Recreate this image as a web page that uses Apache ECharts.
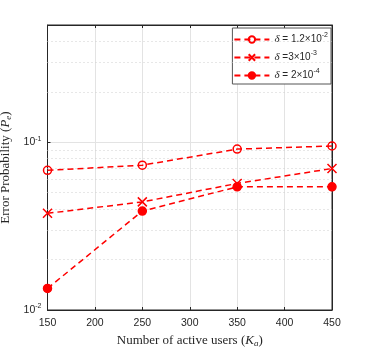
<!DOCTYPE html>
<html>
<head>
<meta charset="utf-8">
<script src="https://cdn.jsdelivr.net/npm/echarts@6/dist/echarts.min.js"></script>
<style>
  html, body { margin: 0; padding: 0; background: #fff; }
  #main { width: 368px; height: 349px; }
</style>
</head>
<body>
<div id="main"></div>
<script>
// data
var users = [150, 250, 350, 450];
var peA = [0.068, 0.073, 0.091, 0.095];     // delta = 1.2e-2
var peB = [0.0377, 0.0441, 0.0568, 0.0697]; // delta = 3e-3
var peC = [0.01345, 0.0389, 0.0542, 0.0542]; // delta = 2e-4
var seriesNames = ['d12e-2', 'd3e-3', 'd2e-4'];
var legendLabels = {
  'd12e-2': '{d|δ} = 1.2×10{s|-2}',
  'd3e-3': '{d|δ} =3×10{s|-3}',
  'd2e-4': '{d|δ} = 2×10{s|-4}'
};
var minorGrid = [0.02, 0.03, 0.04, 0.05, 0.06, 0.07, 0.08, 0.09, 0.2, 0.3, 0.4];
var xTicks = { min: 150, max: 450, step: 50 };
var yRange = { min: 0.01, max: 0.5 };

var RED = '#ff0000';
var DARK = '#262626';
var xPath = 'path://M0,0L10,10M10,0L0,10';

function pairs(ys) {
  var out = [];
  for (var i = 0; i < users.length; i++) out.push([users[i], ys[i]]);
  return out;
}

function mkSeries(name, ys, symbol, size, fill) {
  return {
    name: name,
    type: 'line',
    data: pairs(ys),
    symbol: symbol,
    symbolSize: size,
    showAllSymbol: true,
    lineStyle: { color: RED, width: 1.5, type: [6, 4] },
    itemStyle: { color: fill, borderColor: RED, borderWidth: 1.5 },
    emphasis: { disabled: true },
    z: 5
  };
}

var dom = document.getElementById('main');
var myChart = echarts.init(dom, null, { renderer: 'canvas' });

var series = [
  mkSeries(seriesNames[0], peA, 'circle', 8, 'rgba(255,255,255,0)'),
  mkSeries(seriesNames[1], peB, xPath, 9, RED),
  mkSeries(seriesNames[2], peC, 'circle', 8, RED)
];
// dotted minor grid of the log axis
series[0].markLine = {
  silent: true,
  symbol: 'none',
  label: { show: false },
  lineStyle: { color: '#cfcfcf', type: [1, 3], width: 1 },
  data: minorGrid.map(function (v) { return { yAxis: v }; })
};

function logLabel(v) {
  var e = Math.log10(v);
  var r = Math.round(e);
  if (Math.abs(e - r) > 1e-6) return '';
  return '10{s|' + r + '}';
}

var nameRich = {
  n: { fontFamily: 'Liberation Serif', fontSize: 13, color: DARK },
  i: { fontFamily: 'Liberation Serif', fontStyle: 'italic', fontSize: 13, color: DARK },
  sub: { fontFamily: 'Liberation Serif', fontStyle: 'italic', fontSize: 9, color: DARK, verticalAlign: 'top', padding: [6, 0, 0, 0] }
};

var option = {
  backgroundColor: '#fff',
  animation: false,
  grid: {
    left: 47.5, right: 36, top: 25, bottom: 39,
    outerBoundsMode: 'none',
    containLabel: false,
    show: true, borderColor: DARK, borderWidth: 1, backgroundColor: 'transparent'
  },
  legend: {
    data: seriesNames,
    orient: 'vertical',
    right: 37, top: 28,
    backgroundColor: '#fff',
    borderColor: '#555',
    borderWidth: 1,
    padding: [4, 3, 3, 1],
    itemWidth: 35, itemHeight: 8,
    itemGap: 5,
    formatter: function (n) { return legendLabels[n]; },
    textStyle: {
      fontFamily: 'Liberation Sans', fontSize: 10, color: DARK,
      rich: {
        d: { fontFamily: 'Liberation Serif', fontStyle: 'italic', fontSize: 11, color: DARK },
        s: { fontSize: 7, verticalAlign: 'bottom', padding: [0, 0, 8, 0], color: DARK }
      }
    }
  },
  xAxis: [{
    type: 'value',
    min: xTicks.min, max: xTicks.max, interval: xTicks.step,
    name: '{n|Number of active users (}{i|K}{sub|a}{n|)}',
    nameLocation: 'middle', nameGap: 22,
    nameTextStyle: { rich: nameRich },
    axisLine: { lineStyle: { color: DARK } },
    axisTick: { inside: true, length: 3, lineStyle: { color: DARK } },
    axisLabel: { fontFamily: 'Liberation Sans', fontSize: 10.5, color: DARK, margin: 8 },
    splitLine: { show: true, lineStyle: { color: '#e3e3e3', width: 1 } }
  }, {
    type: 'value', position: 'top',
    min: xTicks.min, max: xTicks.max, interval: xTicks.step,
    axisLine: { lineStyle: { color: DARK } },
    axisTick: { inside: true, length: 3, lineStyle: { color: DARK } },
    axisLabel: { show: false },
    splitLine: { show: false }
  }],
  yAxis: [{
    type: 'log', logBase: 10,
    min: yRange.min, max: yRange.max,
    name: '{n|Error Probability (}{i|P}{sub|e}{n|)}',
    nameLocation: 'middle', nameGap: 30,
    nameTextStyle: { rich: nameRich },
    axisLine: { show: true, lineStyle: { color: DARK } },
    axisTick: { inside: true, length: 3, lineStyle: { color: DARK } },
    axisLabel: {
      formatter: logLabel, fontFamily: 'Liberation Sans', fontSize: 10.5, color: DARK, margin: 6,
      showMaxLabel: false,
      rich: { s: { fontFamily: 'Liberation Sans', fontSize: 7, color: DARK, verticalAlign: 'bottom', padding: [0, 0, 7, 0] } }
    },
    splitLine: { show: true, lineStyle: { color: '#e3e3e3', width: 1 } }
  }, {
    type: 'log', logBase: 10, position: 'right',
    min: yRange.min, max: yRange.max,
    axisLine: { show: true, lineStyle: { color: DARK } },
    axisTick: { inside: true, length: 3, lineStyle: { color: DARK } },
    axisLabel: { show: false },
    splitLine: { show: false }
  }],
  series: series
};

myChart.setOption(option, true);
window.onresize = myChart.resize;
</script>
</body>
</html>
